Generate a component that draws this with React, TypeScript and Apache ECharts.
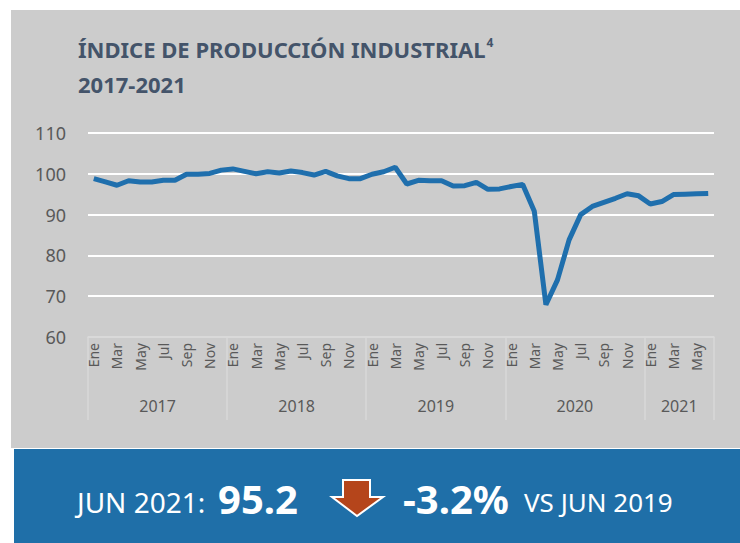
import React, { useEffect, useRef } from "react";
import * as echarts from "echarts";

const monthNames = ["Ene", "Feb", "Mar", "Abr", "May", "Jun", "Jul", "Ago", "Sep", "Oct", "Nov", "Dic"];
const years = ["2017", "2018", "2019", "2020", "2021"];
const values2017 = [98.8, 98.0, 97.2, 98.3, 98.0, 98.0, 98.4, 98.4, 99.9, 99.9, 100.1, 100.9];
const values2018 = [101.2, 100.6, 100.0, 100.5, 100.2, 100.7, 100.3, 99.7, 100.6, 99.5, 98.8, 98.8];
const values2019 = [99.9, 100.5, 101.6, 97.5, 98.4, 98.3, 98.3, 97.0, 97.1, 97.9, 96.2, 96.3];
const values2020 = [96.9, 97.4, 90.8, 67.9, 74.0, 83.8, 90.0, 92.0, 93.0, 94.0, 95.1, 94.6];
const values2021 = [92.6, 93.2, 94.9, 95.0, 95.1, 95.2];
const yTicks = { min: 60, max: 110, interval: 10 };

const titleLine1 = "ÍNDICE DE PRODUCCIÓN INDUSTRIAL";
const titleSup = "4";
const titleLine2 = "2017-2021";
const bannerLabel = "JUN 2021:";
const bannerValue = "95.2";
const bannerChange = "-3.2%";
const bannerCompare = "VS JUN 2019";

const allValues = [...values2017, ...values2018, ...values2019, ...values2020, ...values2021];
const categories = allValues.map((_, i) => monthNames[i % 12]);
const yearStarts = years.map((_, i) => i * 12);
const yearEnds = years.map((_, i) => Math.min((i + 1) * 12, allValues.length));
const yearCenters = years.map((_, i) => (yearStarts[i] + yearEnds[i]) / 2);
const yearBounds = [...yearStarts, allValues.length];

const FONT = "'Noto Sans', sans-serif";

export default function App() {
  const ref = useRef<HTMLDivElement>(null);
  useEffect(() => {
    if (!ref.current) return;
    const chart = echarts.init(ref.current, undefined, { renderer: "svg" });
    chart.setOption({
      animation: false,
      textStyle: { fontFamily: FONT },
      title: {
        text: `{t|${titleLine1}}{s|${titleSup}}\n{t|${titleLine2}}`,
        left: 73,
        top: 26,
        textStyle: {
          rich: {
            t: { fontSize: 22, fontWeight: "bold", color: "#44546a", lineHeight: 35, fontFamily: FONT },
            s: { fontSize: 12, fontWeight: "bold", color: "#44546a", lineHeight: 35, padding: [0, 0, 12, 1], fontFamily: FONT },
          },
        },
      },
      grid: { left: 88, right: 26, top: 133, bottom: 206, containLabel: false },
      xAxis: [
        {
          type: "category",
          data: categories,
          boundaryGap: true,
          axisLine: { show: true, lineStyle: { color: "#d9d9d9", width: 1.5 } },
          axisTick: { show: false },
          axisLabel: {
            interval: 1,
            rotate: 90,
            fontSize: 14,
            color: "#595959",
            margin: 6,
            fontFamily: FONT,
          },
          splitLine: { show: false },
        },
        {
          type: "value",
          min: 0,
          max: allValues.length,
          position: "bottom",
          axisLine: { show: false },
          splitLine: { show: false },
          axisTick: {
            show: true,
            customValues: yearBounds,
            length: 83,
            lineStyle: { color: "#d9d9d9", width: 1.5 },
          },
          axisLabel: {
            customValues: yearCenters,
            formatter: (v: number) => {
              const idx = yearCenters.findIndex((c) => Math.abs(c - v) < 0.01);
              return idx >= 0 ? years[idx] : "";
            },
            fontSize: 16,
            color: "#595959",
            margin: 61,
            fontFamily: FONT,
          },
        },
      ],
      yAxis: {
        type: "value",
        min: yTicks.min,
        max: yTicks.max,
        interval: yTicks.interval,
        axisLine: { show: false },
        axisTick: { show: false },
        axisLabel: { fontSize: 18, color: "#595959", margin: 22, fontFamily: FONT },
        splitLine: {
          show: true,
          lineStyle: { color: ["#d9d9d9", "#ffffff", "#ffffff", "#ffffff", "#ffffff", "#ffffff"], width: 2 },
        },
      },
      series: [
        {
          type: "line",
          xAxisIndex: 0,
          data: allValues,
          showSymbol: false,
          symbol: "none",
          lineStyle: { color: "#1f6fad", width: 5 },
          z: 5,
        },
      ],
      graphic: [
        {
          type: "text",
          x: 77,
          y: 502,
          style: { text: bannerLabel, font: `normal 28px ${FONT}`, fill: "#ffffff", textVerticalAlign: "middle" },
        },
        {
          type: "text",
          x: 218,
          y: 498,
          style: { text: bannerValue, font: `bold 40px ${FONT}`, fill: "#ffffff", textVerticalAlign: "middle" },
        },
        {
          type: "polygon",
          shape: {
            points: [
              [343, 480],
              [370, 480],
              [370, 497],
              [383, 497],
              [357, 516],
              [332, 497],
              [343, 497],
            ],
          },
          style: { fill: "#b5451b", stroke: "#ffffff", lineWidth: 2 },
        },
        {
          type: "text",
          x: 403,
          y: 498,
          style: { text: bannerChange, font: `bold 40px ${FONT}`, fill: "#ffffff", textVerticalAlign: "middle" },
        },
        {
          type: "text",
          x: 524,
          y: 502,
          style: { text: bannerCompare, font: `normal 26px ${FONT}`, fill: "#ffffff", textVerticalAlign: "middle" },
        },
      ],
    });
    return () => chart.dispose();
  }, []);

  return (
    <div style={{ position: "absolute", left: 0, top: 0, width: 740, height: 543, background: "#ffffff" }}>
      <div style={{ position: "absolute", left: 11, top: 10, width: 729, height: 438, background: "#cccccc" }} />
      <div style={{ position: "absolute", left: 14, top: 449, width: 726, height: 94, background: "#1f6fa8" }} />
      <div ref={ref} style={{ position: "absolute", left: 0, top: 0, width: 740, height: 543 }} />
    </div>
  );
}
